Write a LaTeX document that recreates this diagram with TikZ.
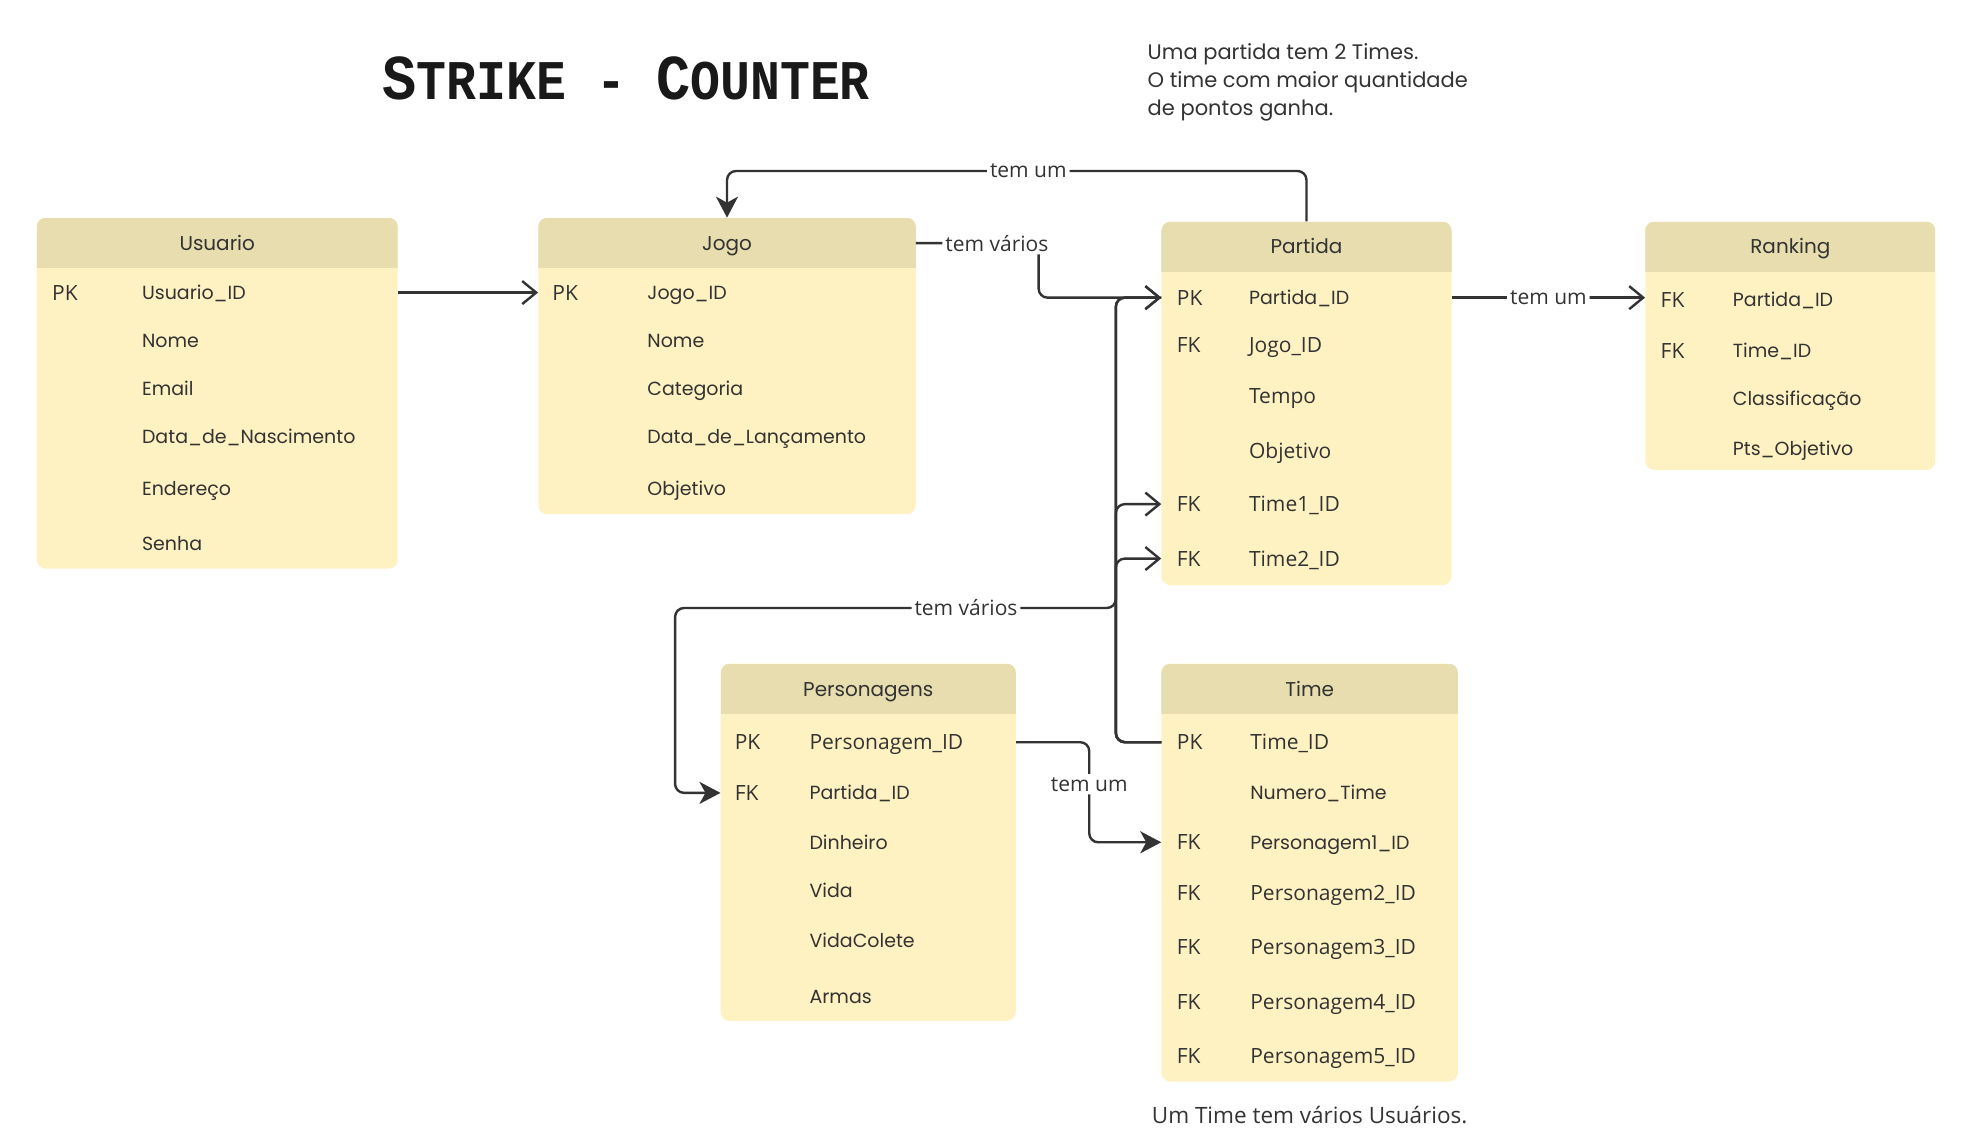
\documentclass[tikz,border=0pt]{standalone}
\usepackage{fontspec}
\setmainfont{Open Sans}
\newfontfamily\popfont{Poppins}
\newfontfamily\slabfont{Liberation Mono}
\usetikzlibrary{arrows.meta, positioning, fit, calc}
\definecolor{erhead}{HTML}{E7DDAE}
\definecolor{erbody}{HTML}{FFF2C2}
\definecolor{erline}{HTML}{333333}
\definecolor{ertext}{HTML}{333333}

\tikzset{
    entity/.style={fill=erbody, rounded corners=9pt, inner sep=0pt,
        path picture={\fill[erhead, sharp corners] (path picture bounding box.north west) rectangle ([yshift=-50pt]path picture bounding box.north east);}},
    enttitle/.style={font=\popfont\fontsize{20}{24}\selectfont, text=ertext, inner sep=0pt, text height=14pt, text depth=0pt},
    fldp/.style={anchor=west, font=\popfont\fontsize{19}{23}\selectfont, text=ertext, inner sep=0pt, text height=13.5pt, text depth=0pt},
    fldo/.style={anchor=west, font=\fontsize{21}{25}\selectfont, text=ertext, inner sep=0pt, text height=15pt, text depth=0pt},
    rel/.style={line width=2.4pt, draw=erline, rounded corners=9pt},
    openarr/.style={rel, -{Straight Barb[length=14pt, width=23pt]}},
    solidarr/.style={rel, -{Stealth[length=21pt, width=22pt, inset=6pt]}},
    lbl/.style={fill=white, font=\fontsize{21}{25}\selectfont, text=ertext, inner sep=3pt},
}

\begin{document}
\begin{tikzpicture}[x=1.2666pt, y=-1.2666pt]
    \fill[white] (0,0) rectangle (1568,894);
    \useasboundingbox (0,0) rectangle (1568,894);

    % title and notes
    \node[text=black!90, inner sep=0pt] (title) at (494.5,62) {\slabfont\bfseries\scalebox{0.89}[1]{%
        {\fontsize{64}{64}\selectfont S}{\fontsize{56}{56}\selectfont TRIKE - }{\fontsize{64}{64}\selectfont C}{\fontsize{56}{56}\selectfont OUNTER}}};
    \node[anchor=north west, align=left, inner sep=0pt, text=ertext, font=\popfont\fontsize{21}{28}\selectfont] (note-partida) at (906,34)
        {Uma partida tem 2 Times.\\O time com maior quantidade\\de pontos ganha.};
    \node[inner sep=0pt, text=ertext, font=\fontsize{22.5}{26}\selectfont] (note-time) at (1034,880) {Um Time tem vários Usuários.};

    % Usuario
    \node[entity, fit={(29,172) (314,449)}] (usuario) {};
    \node[enttitle] (usr-h) at (171.5,192) {Usuario};
    \node[fldo] (usr-pk) at (41,231) {PK};
    \node[fldp] (usr-id) at (112,231) {Usuario\_ID};
    \node[fldp] (usr-nome) at (112,269) {Nome};
    \node[fldp] (usr-email) at (112,307) {Email};
    \node[fldp] (usr-nasc) at (112,345) {Data\_de\_Nascimento};
    \node[fldp] (usr-end) at (112,386) {Endereço};
    \node[fldp] (usr-senha) at (112,429) {Senha};

    % Jogo
    \node[entity, fit={(425,172) (723,406)}] (jogo) {};
    \node[enttitle] (jog-h) at (574,192) {Jogo};
    \node[fldo] (jog-pk) at (436,231) {PK};
    \node[fldp] (jog-id) at (511,231) {Jogo\_ID};
    \node[fldp] (jog-nome) at (511,269) {Nome};
    \node[fldp] (jog-cat) at (511,307) {Categoria};
    \node[fldp] (jog-lanc) at (511,345) {Data\_de\_Lançamento};
    \node[fldp] (jog-obj) at (511,386) {Objetivo};

    % Partida
    \node[entity, fit={(917,175) (1146,462)}] (partida) {};
    \node[enttitle] (par-h) at (1031.5,195) {Partida};
    \node[fldo] (par-pk) at (929,235) {PK};
    \node[fldp] (par-id) at (986,235) {Partida\_ID};
    \node[fldo] (par-fk1) at (929,272) {FK};
    \node[fldo] (par-jogo) at (986,272) {Jogo\_ID};
    \node[fldo] (par-tempo) at (986,313) {Tempo};
    \node[fldo] (par-obj) at (986,356) {Objetivo};
    \node[fldo] (par-fk2) at (929,398) {FK};
    \node[fldo] (par-t1) at (986,398) {Time1\_ID};
    \node[fldo] (par-fk3) at (929,441) {FK};
    \node[fldo] (par-t2) at (986,441) {Time2\_ID};

    % Ranking
    \node[entity, fit={(1299,175) (1528,371)}] (ranking) {};
    \node[enttitle] (rnk-h) at (1413.5,195) {Ranking};
    \node[fldo] (rnk-fk1) at (1311,237) {FK};
    \node[fldp] (rnk-par) at (1368,237) {Partida\_ID};
    \node[fldo] (rnk-fk2) at (1311,277) {FK};
    \node[fldp] (rnk-time) at (1368,277) {Time\_ID};
    \node[fldp] (rnk-class) at (1368,315) {Classificação};
    \node[fldp] (rnk-pts) at (1368,354) {Pts\_Objetivo};

    % Personagens
    \node[entity, fit={(569,524) (802,806)}] (personagens) {};
    \node[enttitle] (per-h) at (685.5,544) {Personagens};
    \node[fldo] (per-pk) at (580,586) {PK};
    \node[fldo] (per-id) at (639,586) {Personagem\_ID};
    \node[fldo] (per-fkk) at (580,626) {FK};
    \node[fldp] (per-fk) at (639,626) {Partida\_ID};
    \node[fldp] (per-din) at (639,665) {Dinheiro};
    \node[fldp] (per-vida) at (639,703) {Vida};
    \node[fldp] (per-colete) at (639,743) {VidaColete};
    \node[fldp] (per-armas) at (639,787) {Armas};

    % Time
    \node[entity, fit={(917,524) (1151,854)}] (time) {};
    \node[enttitle] (tim-h) at (1034,544) {Time};
    \node[fldo] (tim-pk) at (929,586) {PK};
    \node[fldo] (tim-id) at (987,586) {Time\_ID};
    \node[fldp] (tim-num) at (987,626) {Numero\_Time};
    \node[fldo] (tim-fk1) at (929,665) {FK};
    \node[fldp] (tim-p1) at (987,665) {Personagem1\_ID};
    \node[fldo] (tim-fk2) at (929,705) {FK};
    \node[fldo] (tim-p2) at (987,705) {Personagem2\_ID};
    \node[fldo] (tim-fk3) at (929,748) {FK};
    \node[fldo] (tim-p3) at (987,748) {Personagem3\_ID};
    \node[fldo] (tim-fk4) at (929,791) {FK};
    \node[fldo] (tim-p4) at (987,791) {Personagem4\_ID};
    \node[fldo] (tim-fk5) at (929,834) {FK};
    \node[fldo] (tim-p5) at (987,834) {Personagem5\_ID};

    % relations
    \draw[openarr] (usuario.east |- usr-id) -- (jogo.west |- jog-id);
    \draw[solidarr] (partida.north) -- (partida.north |- 0,135) -- node[lbl, pos=0.48] {tem um} (jogo.north |- 0,135) -- (jogo.north);
    \draw[openarr] (jogo.east |- jog-h) -- node[lbl, pos=0.66] {tem vários} (820,0 |- jog-h) -- (820,0 |- par-id) -- (partida.west |- par-id);
    \draw[openarr] (partida.east |- par-id) -- node[lbl] {tem um} (ranking.west |- par-id);
    \draw[openarr] (time.west |- tim-id) -- (881,0 |- tim-id) -- (881,0 |- par-id) -- (partida.west |- par-id);
    \draw[openarr] (time.west |- tim-id) -- (881,0 |- tim-id) -- (881,0 |- par-t1) -- (partida.west |- par-t1);
    \draw[openarr] (time.west |- tim-id) -- (881,0 |- tim-id) -- (881,0 |- par-t2) -- (partida.west |- par-t2);
    \draw[solidarr] (partida.west |- par-id) -- (881,0 |- par-id) -- (881,480) -- node[lbl, pos=0.34] {tem vários} (533,480) -- (533,0 |- per-fk) -- (personagens.west |- per-fk);
    \draw[solidarr] (personagens.east |- per-id) -- (860,0 |- per-id) -- node[lbl, pos=0.42] {tem um} (860,0 |- tim-p1) -- (time.west |- tim-p1);
\end{tikzpicture}
\end{document}
